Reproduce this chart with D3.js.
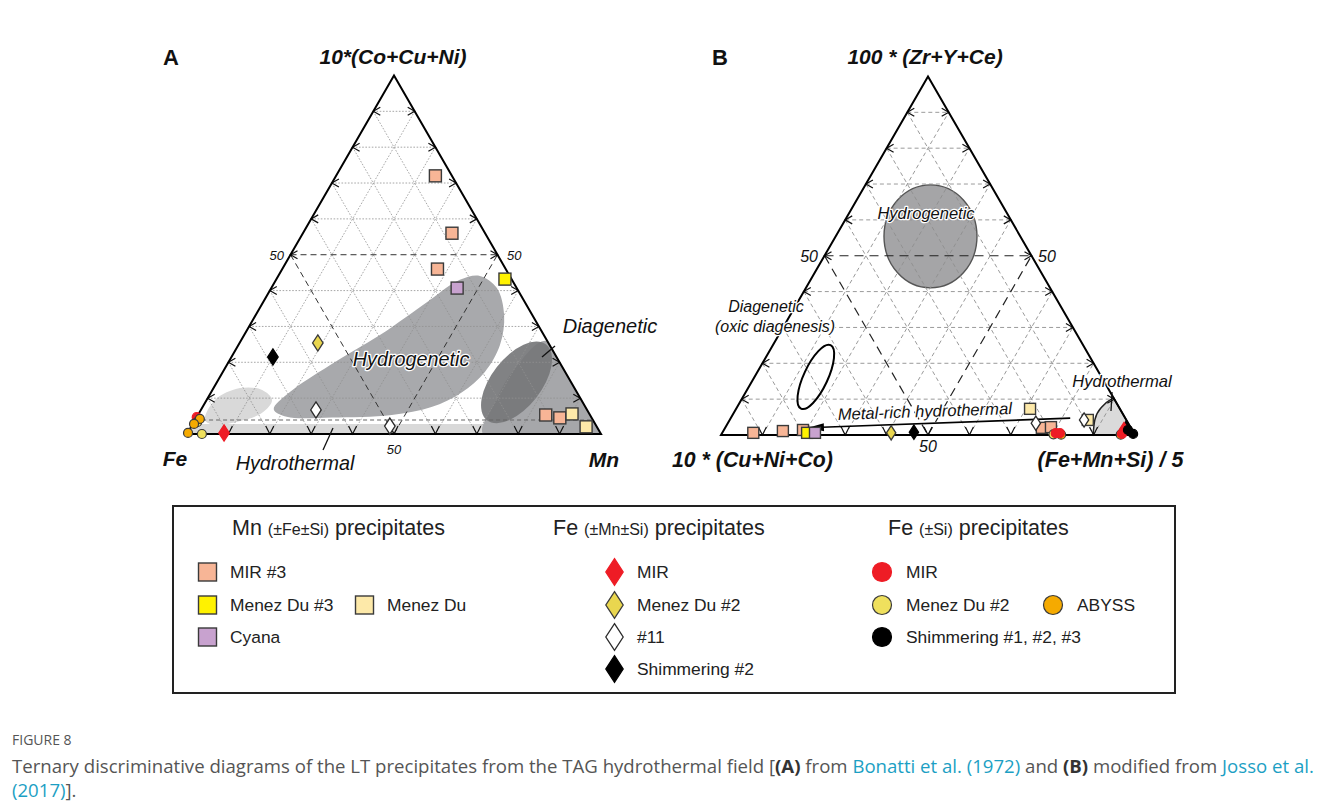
<!DOCTYPE html>
<html><head><meta charset="utf-8">
<script src="https://cdnjs.cloudflare.com/ajax/libs/d3/7.8.5/d3.min.js"></script>
<style>
body{margin:0;background:#fff;}
svg{display:block;font-family:"Liberation Sans",Arial,sans-serif;}
</style></head><body>
<svg id="fig" width="1320" height="809"></svg>
<script>
// ---------- Diagram A: points are [10*(Co+Cu+Ni) %, Mn %]; Fe is the remainder ----------
const mir3SquaresA      = [[72,24],[56,36],[46,37.5],[5.3,84],[4.5,87.8]];
const menezDu3SquaresA  = [[43.2,55.2]];
const menezDuSquaresA   = [[5.6,90.2],[2,95.4]];
const cyanaSquaresA     = [[40.7,44.9]];
const mirDiamondsA      = [[0.3,8.8]];
const menezDu2DiamondsA = [[25.4,18.9]];
const n11DiamondsA      = [[6.7,27.8],[2.2,47.9]];
const shim2DiamondsA    = [[21.5,10]];
const mirCirclesA       = [[4.7,0]];
const menezDu2CirclesA  = [[3.3,0.8],[0,3.6]];
const abyssCirclesA     = [[4.2,1],[2.8,0.3],[0.3,0.1]];

// fields of diagram A, same [top %, right %] convention
const hydrogeneticA = [[6.9,17.5],[11.7,19],[19.2,24.9],[27.6,32.8],[37.4,40],[43,44.4],[44.1,48.7],
  [40.7,54.5],[33.2,60],[24.8,63.2],[17.3,63.3],[11.5,60.5],[7.5,55.3],[5.3,46.8],[4.6,32.7],[4.8,21.7]];
const hydrothermalBlobA = [[3.9,2.4],[9.5,2],[12.8,6.4],[12.3,12],[9.5,15.8],[5.9,15.2],[3.6,11],[2.5,5.5]];
const hydrothermalStripA = [[0,0],[0,100],[2.8,97.2],[2.8,0]];
const cornerFieldA = [[0,71.5],[0,100],[26,74],[18,70],[8,70]];
const diageneticA = {center:[14.4,72.4], rx:48, ry:25, angle:-52};
const boundaryA = [[3.9,0],[3.9,96.1]];

// ---------- Diagram B: points are [100*(Zr+Y+Ce) %, (Fe+Mn+Si)/5 %]; 10*(Cu+Ni+Co) is the remainder ----------
const mir3SquaresB      = [[0.6,7.5],[1.1,14.4],[1.4,19.1],[2,76.5],[2.2,78.6]];
const menezDu3SquaresB  = [[0.6,20.5]];
const menezDuSquaresB   = [[7.3,71],[4.2,86.5]];
const cyanaSquaresB     = [[0.6,22.4]];
const mirDiamondsB      = [[1.5,96.6]];
const menezDu2DiamondsB = [[0.6,40.8]];
const n11DiamondsB      = [[3.3,74.4],[4.2,85.6]];
const shim2DiamondsB    = [[0.8,46.2],[1.8,96.9]];
const mirCirclesB       = [[0.5,80.6],[0.5,81.6],[0.3,96.7]];
const menezDu2CirclesB  = [[0.2,80.2]];
const abyssCirclesB     = [[0.1,82.1],[0.1,96.5]];
const shimCirclesB      = [[1.4,97.6],[0.3,99.4]];

const hydrogeneticB = {center:[55.4,22.9], rx:46.5, ry:51.5};
const diageneticB   = {center:[16.2,14.8], rx:12, ry:35, angle:25};
const hydrothermalB = [[0,89.9],[4.2,88.2],[7.5,88],[9.8,89.1],[10.3,89.7],[0,100]];
const metalRichArrowB = [[4.7,82],[2,20]];

const gridSteps = [10,20,30,40,50,60,70,80,90];

// ---------- marker styles ----------
const styles = {
  mir3:   {shape:"square",  fill:"#f7b596", stroke:"#3a3a3a"},
  mdu3:   {shape:"square",  fill:"#fff200", stroke:"#3a3a3a"},
  mdu:    {shape:"square",  fill:"#fde9a9", stroke:"#3a3a3a"},
  cyana:  {shape:"square",  fill:"#c8a2cf", stroke:"#3a3a3a"},
  mirD:   {shape:"diamond", fill:"#ee1c25", stroke:"#ee1c25"},
  mdu2D:  {shape:"diamond", fill:"#e9d64f", stroke:"#3a3a3a"},
  n11D:   {shape:"diamond", fill:"#ffffff", stroke:"#2a2a2a"},
  shim2D: {shape:"diamond", fill:"#000000", stroke:"#000000"},
  mirC:   {shape:"circle",  fill:"#ee1c25", stroke:"#ee1c25"},
  mdu2C:  {shape:"circle",  fill:"#efe05d", stroke:"#3a3a3a"},
  abyssC: {shape:"circle",  fill:"#f5aa00", stroke:"#3a3a3a"},
  shimC:  {shape:"circle",  fill:"#000000", stroke:"#000000"}
};

const svg = d3.select("#fig");

function makeTernary(left, right, base){
  const side = right - left, h = side*Math.sqrt(3)/2;
  const x = d3.scaleLinear().domain([0,100]).range([left,right]);
  const y = d3.scaleLinear().domain([0,100]).range([base, base-h]);
  const proj = ([t,r]) => [x(r + t/2), y(t)];
  return {x, y, proj, side, h, left, right, base};
}

function marker(g, style, cx, cy, size){
  if(style.shape==="square"){
    g.append("rect").attr("x",cx-size/2).attr("y",cy-size/2).attr("width",size).attr("height",size)
      .attr("fill",style.fill).attr("stroke",style.stroke).attr("stroke-width",1.4);
  } else if(style.shape==="diamond"){
    const w=size*0.62, hh=size*0.95;
    g.append("path").attr("d",`M${cx},${cy-hh/2}L${cx+w/2},${cy}L${cx},${cy+hh/2}L${cx-w/2},${cy}Z`)
      .attr("fill",style.fill).attr("stroke",style.stroke).attr("stroke-width",1.3);
  } else {
    g.append("circle").attr("cx",cx).attr("cy",cy).attr("r",size/2)
      .attr("fill",style.fill).attr("stroke",style.stroke).attr("stroke-width",1.2);
  }
}

function drawGrid(g, T, opt){
  const P = T.proj;
  const line = (a,b,cls) => {
    const [x1,y1]=P(a),[x2,y2]=P(b);
    const l = g.append("line").attr("x1",x1).attr("y1",y1).attr("x2",x2).attr("y2",y2).attr("fill","none");
    if(cls==="major") l.attr("stroke",opt.majorColor).attr("stroke-width",opt.majorWidth).attr("stroke-dasharray",opt.majorDash);
    else l.attr("stroke",opt.minorColor).attr("stroke-width",opt.minorWidth).attr("stroke-dasharray",opt.minorDash);
  };
  gridSteps.forEach(k=>{
    const cls = k===50 ? "major" : "minor";
    line([k,0],[k,100-k],cls);          // constant top component
    line([100-k,0],[0,100-k],cls);      // constant left component
    line([0,k],[100-k,k],cls);          // constant right component
  });
  // tick arrowheads on the three edges
  gridSteps.forEach(k=>{
    const [lx,ly]=P([k,0]), [rx,ry]=P([k,100-k]), [bx,by]=P([0,k]);
    g.append("path").attr("d",`M${lx+7},${ly-4}L${lx},${ly}L${lx+7},${ly+4}`).attr("fill","none").attr("stroke","#111").attr("stroke-width",1.2);
    g.append("path").attr("d",`M${rx-7},${ry-4}L${rx},${ry}L${rx-7},${ry+4}`).attr("fill","none").attr("stroke","#111").attr("stroke-width",1.2);
    g.append("path").attr("d",`M${bx-4},${by-8}L${bx},${by}L${bx+4},${by-8}`).attr("fill","none").attr("stroke","#111").attr("stroke-width",1.2);
  });
}

function drawOutline(g, T){
  const pts=[T.proj([0,0]),T.proj([0,100]),T.proj([100,0])];
  g.append("path").attr("d","M"+pts.join("L")+"Z").attr("fill","none").attr("stroke","#000").attr("stroke-width",2).attr("stroke-linejoin","miter");
}

function drawPoints(g, T, list, size){
  list.forEach(([data,key])=>{
    data.forEach(d=>{ const [cx,cy]=T.proj(d); marker(g, styles[key], cx, cy, size[styles[key].shape]); });
  });
}

// ======================= Diagram A =======================
const TA = makeTernary(187, 601, 434);
const gA = svg.append("g");
svg.append("clipPath").attr("id","clipA")
  .append("path").attr("d","M"+[TA.proj([0,0]),TA.proj([0,100]),TA.proj([100,0])].join("L")+"Z");
const fieldsA = gA.append("g").attr("clip-path","url(#clipA)");
const closedCurve = T => d3.line().x(d=>T.proj(d)[0]).y(d=>T.proj(d)[1]).curve(d3.curveCatmullRomClosed.alpha(0.5));
const poly = T => d3.line().x(d=>T.proj(d)[0]).y(d=>T.proj(d)[1]);

fieldsA.append("path").attr("d",poly(TA)(hydrothermalStripA)+"Z").attr("fill","#d9d9d9");
fieldsA.append("path").attr("d",closedCurve(TA)(hydrothermalBlobA)).attr("fill","#d9d9d9");
fieldsA.append("path").attr("d",closedCurve(TA)(cornerFieldA)).attr("fill","#a6a7aa");
fieldsA.append("path").attr("d",closedCurve(TA)(hydrogeneticA)).attr("fill","#a8a9ac");
{
  const [cx,cy]=TA.proj(diageneticA.center);
  fieldsA.append("ellipse").attr("cx",cx).attr("cy",cy).attr("rx",diageneticA.rx).attr("ry",diageneticA.ry)
    .attr("transform",`rotate(${diageneticA.angle},${cx},${cy})`).attr("fill","#76777a").attr("opacity",0.92);
}
drawGrid(gA, TA, {minorColor:"#919191", minorWidth:0.8, minorDash:"1.6,1.6", majorColor:"#333", majorWidth:1, majorDash:"6,4"});
{
  const [p,q]=boundaryA.map(TA.proj);
  gA.append("line").attr("x1",p[0]).attr("y1",p[1]).attr("x2",q[0]).attr("y2",q[1]).attr("stroke","#666").attr("stroke-width",1.1).attr("stroke-dasharray","4,3");
}
drawOutline(gA, TA);
drawPoints(gA, TA, [
  [mir3SquaresA,"mir3"],[menezDu3SquaresA,"mdu3"],[menezDuSquaresA,"mdu"],[cyanaSquaresA,"cyana"],
  [n11DiamondsA,"n11D"],[menezDu2DiamondsA,"mdu2D"],[shim2DiamondsA,"shim2D"],[mirDiamondsA,"mirD"],
  [mirCirclesA,"mirC"],[menezDu2CirclesA,"mdu2C"],[abyssCirclesA,"abyssC"]],
  {square:12, diamond:17, circle:9});

// ======================= Diagram B =======================
const TB = makeTernary(721, 1135, 435);
const gB = svg.append("g");
{
  const [cx,cy]=TB.proj(hydrogeneticB.center);
  gB.append("ellipse").attr("cx",cx).attr("cy",cy).attr("rx",hydrogeneticB.rx).attr("ry",hydrogeneticB.ry)
    .attr("fill","#a5a5a7").attr("stroke","#555").attr("stroke-width",1.4);
}
gB.append("path").attr("d",d3.line().x(d=>TB.proj(d)[0]).y(d=>TB.proj(d)[1]).curve(d3.curveMonotoneY)(hydrothermalB.slice(0,5))
    +"L"+TB.proj([0,100])+"Z").attr("fill","#dadada").attr("stroke","#222").attr("stroke-width",1.5);
drawGrid(gB, TB, {minorColor:"#8f8f8f", minorWidth:0.9, minorDash:"4,3", majorColor:"#222", majorWidth:1.2, majorDash:"9,6"});
{
  const [cx,cy]=TB.proj(diageneticB.center);
  gB.append("ellipse").attr("cx",cx).attr("cy",cy).attr("rx",diageneticB.rx).attr("ry",diageneticB.ry)
    .attr("transform",`rotate(${diageneticB.angle},${cx},${cy})`).attr("fill","none").attr("stroke","#000").attr("stroke-width",2);
}
drawOutline(gB, TB);
{
  const [p,q]=metalRichArrowB.map(TB.proj);
  const ang=Math.atan2(q[1]-p[1],q[0]-p[0]);
  gB.append("line").attr("x1",p[0]).attr("y1",p[1]).attr("x2",q[0]-14*Math.cos(ang)).attr("y2",q[1]-14*Math.sin(ang)).attr("stroke","#000").attr("stroke-width",1.6);
  const hl=16, hw=4;
  const bx=q[0]-hl*Math.cos(ang), by=q[1]-hl*Math.sin(ang);
  gB.append("path").attr("d",`M${q[0]},${q[1]}L${bx-hw*Math.sin(ang)},${by+hw*Math.cos(ang)}L${bx+hw*Math.sin(ang)},${by-hw*Math.cos(ang)}Z`).attr("fill","#000");
}
drawPoints(gB, TB, [
  [mir3SquaresB,"mir3"],[menezDu3SquaresB,"mdu3"],[cyanaSquaresB,"cyana"],[menezDuSquaresB,"mdu"],
  [n11DiamondsB,"n11D"],[menezDu2DiamondsB,"mdu2D"],[shim2DiamondsB,"shim2D"],[mirDiamondsB,"mirD"],
  [menezDu2CirclesB,"mdu2C"],[abyssCirclesB,"abyssC"],[mirCirclesB,"mirC"],[shimCirclesB,"shimC"]],
  {square:11, diamond:15, circle:9});

// ======================= Text =======================
const txt = (x,y,s,o={}) => {
  const t = svg.append("text").attr("x",x).attr("y",y).text(s)
    .attr("font-size",o.size||16).attr("fill",o.fill||"#111")
    .attr("text-anchor",o.anchor||"start");
  if(o.bold) t.attr("font-weight","bold");
  if(o.italic) t.attr("font-style","italic");
  if(o.family) t.attr("font-family",o.family);
  if(o.halo) t.attr("stroke","#fff").attr("stroke-width",2.5).attr("paint-order","stroke").attr("stroke-linejoin","round");
  if(o.rotate) t.attr("transform",`rotate(${o.rotate},${x},${y})`);
  return t;
};
// panel letters & apex titles
txt(171,65,"A",{size:22,bold:true,anchor:"middle"});
txt(393,64,"10*(Co+Cu+Ni)",{size:21,bold:true,italic:true,anchor:"middle"});
txt(175,466,"Fe",{size:21,bold:true,italic:true,anchor:"middle"});
txt(604,467,"Mn",{size:21,bold:true,italic:true,anchor:"middle"});
txt(720,65,"B",{size:22,bold:true,anchor:"middle"});
txt(925,64,"100 * (Zr+Y+Ce)",{size:21,bold:true,italic:true,anchor:"middle"});
txt(752.5,467,"10 * (Cu+Ni+Co)",{size:21.3,bold:true,italic:true,anchor:"middle"});
txt(1110.5,467,"(Fe+Mn+Si) / 5",{size:21.5,bold:true,italic:true,anchor:"middle"});

// 50 % labels
txt(284,260,"50",{size:13,italic:true,anchor:"end"});
txt(507,260,"50",{size:13,italic:true});
txt(394,454,"50",{size:13,italic:true,anchor:"middle"});
txt(818,262,"50",{size:16,italic:true,anchor:"end"});
txt(1038,262,"50",{size:16,italic:true});
txt(928,452,"50",{size:16,italic:true,anchor:"middle"});

// field names A
txt(411,366,"Hydrogenetic",{size:19.8,italic:true,anchor:"middle",halo:true});
txt(610,333,"Diagenetic",{size:20,italic:true,anchor:"middle"});
txt(295,470,"Hydrothermal",{size:19.8,italic:true,anchor:"middle"});
svg.append("line").attr("x1",542).attr("y1",357).attr("x2",555).attr("y2",346).attr("stroke","#111").attr("stroke-width",1.3);
svg.append("line").attr("x1",323).attr("y1",450).attr("x2",333).attr("y2",428).attr("stroke","#111").attr("stroke-width",1.3);

// field names B
txt(926,219,"Hydrogenetic",{size:16.5,italic:true,anchor:"middle",halo:true});
txt(766,312,"Diagenetic",{size:16,italic:true,anchor:"middle",halo:true});
txt(775,332,"(oxic diagenesis)",{size:16,italic:true,anchor:"middle",halo:true});
txt(925,417,"Metal-rich hydrothermal",{size:16.6,italic:true,anchor:"middle",halo:true,rotate:-2});
txt(1122,387,"Hydrothermal",{size:16.6,italic:true,anchor:"middle",halo:true});
svg.append("line").attr("x1",1112).attr("y1",392).attr("x2",1111).attr("y2",411).attr("stroke","#111").attr("stroke-width",1.3);

// ======================= Legend =======================
svg.append("rect").attr("x",173).attr("y",506).attr("width",1002).attr("height",187).attr("fill","none").attr("stroke","#222").attr("stroke-width",2);
const legendTitles = [
  {x:232, main:"Mn", sub:"(±Fe±Si)"},
  {x:553, main:"Fe", sub:"(±Mn±Si)"},
  {x:888, main:"Fe", sub:"(±Si)"}
];
legendTitles.forEach(t=>{
  const el = svg.append("text").attr("x",t.x).attr("y",535).attr("fill","#222").attr("font-size",21.5);
  el.append("tspan").text(t.main+" ");
  el.append("tspan").attr("font-size",16).text(t.sub);
  el.append("tspan").text(" precipitates");
});
const legendItems = [
  {key:"mir3",  label:"MIR #3",        x:207.5, y:572},
  {key:"mdu3",  label:"Menez Du #3",   x:207.5, y:605},
  {key:"mdu",   label:"Menez Du",      x:364.5, y:605},
  {key:"cyana", label:"Cyana",         x:207.5, y:637},
  {key:"mirD",  label:"MIR",           x:614.5, y:572},
  {key:"mdu2D", label:"Menez Du #2",   x:614.5, y:605},
  {key:"n11D",  label:"#11",           x:614.5, y:637},
  {key:"shim2D",label:"Shimmering #2", x:614.5, y:669},
  {key:"mirC",  label:"MIR",           x:882,   y:572},
  {key:"mdu2C", label:"Menez Du #2",   x:882,   y:605},
  {key:"abyssC",label:"ABYSS",         x:1053,  y:605},
  {key:"shimC", label:"Shimmering #1, #2, #3", x:882, y:637}
];
const lg = svg.append("g");
legendItems.forEach(it=>{
  const st = styles[it.key];
  const size = st.shape==="square"?18:st.shape==="diamond"?28:19;
  marker(lg, st, it.x, it.y, size);
  const off = st.shape==="square"?22.5:st.shape==="diamond"?22.5:24;
  txt(it.x+off, it.y+6, it.label, {size:17.4,fill:"#222"});
});

// ======================= Caption =======================
txt(12,745,"FIGURE 8",{size:14,fill:"#555",family:"'Open Sans',sans-serif"});
const cap = svg.append("text").attr("x",12).attr("y",773).attr("font-size",18.6).attr("fill","#555").attr("font-family","'Open Sans',sans-serif");
const parts = [
  ["Ternary discriminative diagrams of the LT precipitates from the TAG hydrothermal field [",""],
  ["(A)","b"],[" from ",""],["Bonatti et al. (1972)","l"],[" and ",""],["(B)","b"],[" modified from ",""],["Josso et al.","l"]
];
parts.forEach(([s,k])=>{
  const ts = cap.append("tspan").text(s);
  if(k==="b") ts.attr("font-weight","bold").attr("fill","#333");
  if(k==="l") ts.attr("fill","#1c9fc4");
});
const cap2 = svg.append("text").attr("x",12).attr("y",797).attr("font-size",18.6).attr("fill","#555").attr("font-family","'Open Sans',sans-serif");
cap2.append("tspan").attr("fill","#1c9fc4").text("(2017)");
cap2.append("tspan").text("].");
</script></body></html>
